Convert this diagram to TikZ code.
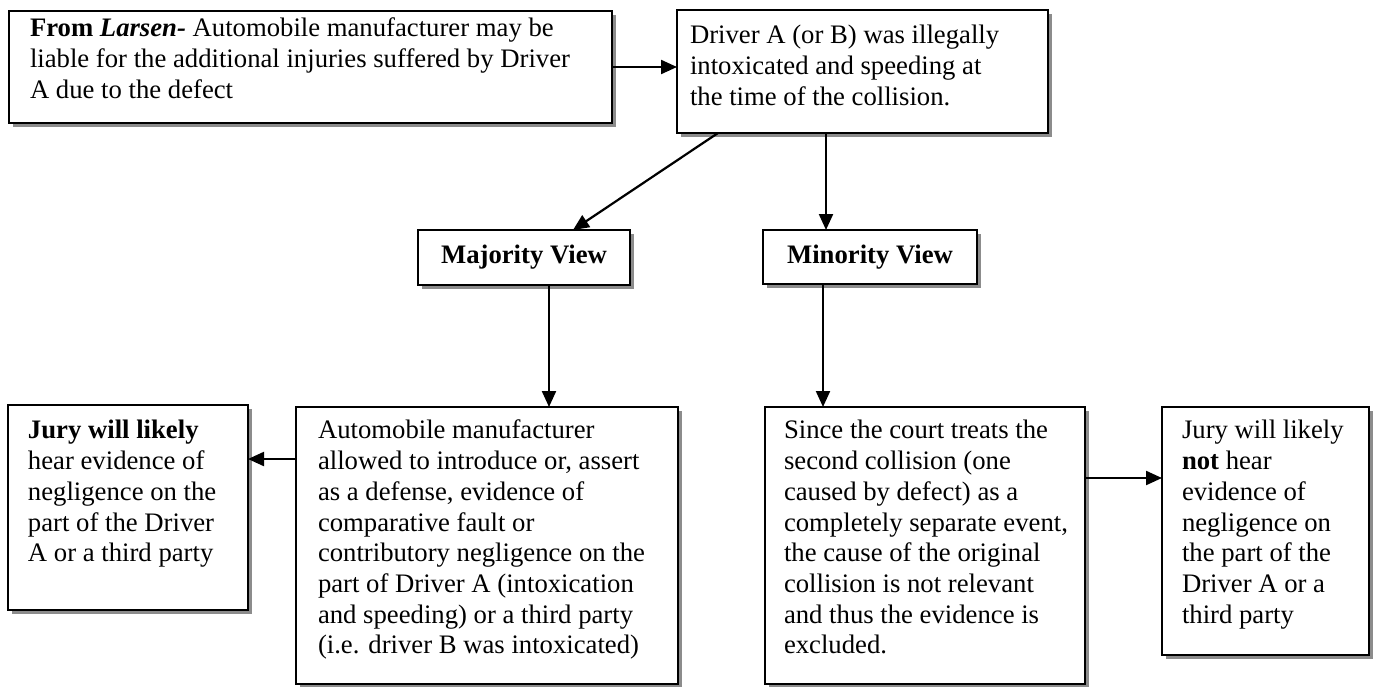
\documentclass[tikz,border=0pt]{standalone}
\usepackage{fontspec}
\setmainfont{Liberation Serif}
\usetikzlibrary{arrows.meta,shadows,calc}
% #1 width, #2 height, #3 left pad, #4 top pad, #5 text
\newcommand{\bxt}[5]{\begin{minipage}[t][#2pt][t]{#1pt}\vspace*{#4pt}\raggedright\leftskip=#3pt\strut #5\end{minipage}}
\begin{document}
\begin{tikzpicture}[x=1pt,y=-1pt,
  every node/.style={font=\fontsize{26.7}{30.7}\selectfont},
  box/.style={draw, line width=2.2pt, fill=white, inner sep=0pt, outer sep=0pt, anchor=north west,
    drop shadow={shadow xshift=4pt, shadow yshift=-4pt, fill=black!45, opacity=1}},
  view/.style={box, font=\fontsize{26.7}{30.7}\selectfont\bfseries},
  arr/.style={line width=2.2pt, -{Triangle[length=16pt,width=14pt]}}]
\useasboundingbox (0,0) rectangle (1384,686);

\node[box] (b1) at (9,11) {\bxt{603}{112}{21}{4.5}{\textbf{From \textit{Larsen-}} Automobile manufacturer may be\\ liable for the additional injuries suffered by Driver\\ A due to the defect}};
\node[box] (b2) at (677,10) {\bxt{371}{123}{13}{12.5}{Driver A (or B) was illegally\\ intoxicated and speeding at\\ the time of the collision.}};
\node[view, minimum width=212pt, minimum height=55pt] (maj) at (418,230) {Majority View};
\node[view, minimum width=214pt, minimum height=54pt] (min) at (763,230) {Minority View};
\node[box] (jl) at (8,405) {\bxt{240}{205}{20}{12.5}{\textbf{Jury will likely}\\ hear evidence of\\ negligence on the\\ part of the Driver\\ A or a third party}};
\node[box] (auto) at (296,407) {\bxt{382}{277}{22}{10.5}{Automobile manufacturer\\ allowed to introduce or, assert\\ as a defense, evidence of\\ comparative fault or\\ contributory negligence on the\\ part of Driver A (intoxication\\ and speeding) or a third party\\ (i.e. driver B was intoxicated)}};
\node[box] (since) at (765,407) {\bxt{320}{277}{19}{10.5}{Since the court treats the\\ second collision (one\\ caused by defect) as a\\ completely separate event,\\ the cause of the original\\ collision is not relevant\\ and thus the evidence is\\ excluded.}};
\node[box] (jn) at (1162,407) {\bxt{207}{248}{20}{10.5}{Jury will likely\\ \textbf{not} hear\\ evidence of\\ negligence on\\ the part of the\\ Driver A or a\\ third party}};

\draw[arr] (b1.east) -- (b1.east -| b2.west);
\draw[arr] ($(b2.south west)+(41,0)$) -- ($(maj.north west)+(155,0)$);
\draw[arr] ($(b2.south west)+(149,0)$) -- ($(min.north west)+(63,0)$);
\draw[arr] ($(maj.south west)+(131,0)$) -- ($(auto.north west)+(253,0)$);
\draw[arr] ($(min.south west)+(60,0)$) -- ($(since.north west)+(58,0)$);
\draw[arr] ($(auto.north west)+(0,52)$) -- ($(jl.north east)+(0,54)$);
\draw[arr] ($(since.north east)+(0,71)$) -- ($(jn.north west)+(0,71)$);
\end{tikzpicture}
\end{document}
